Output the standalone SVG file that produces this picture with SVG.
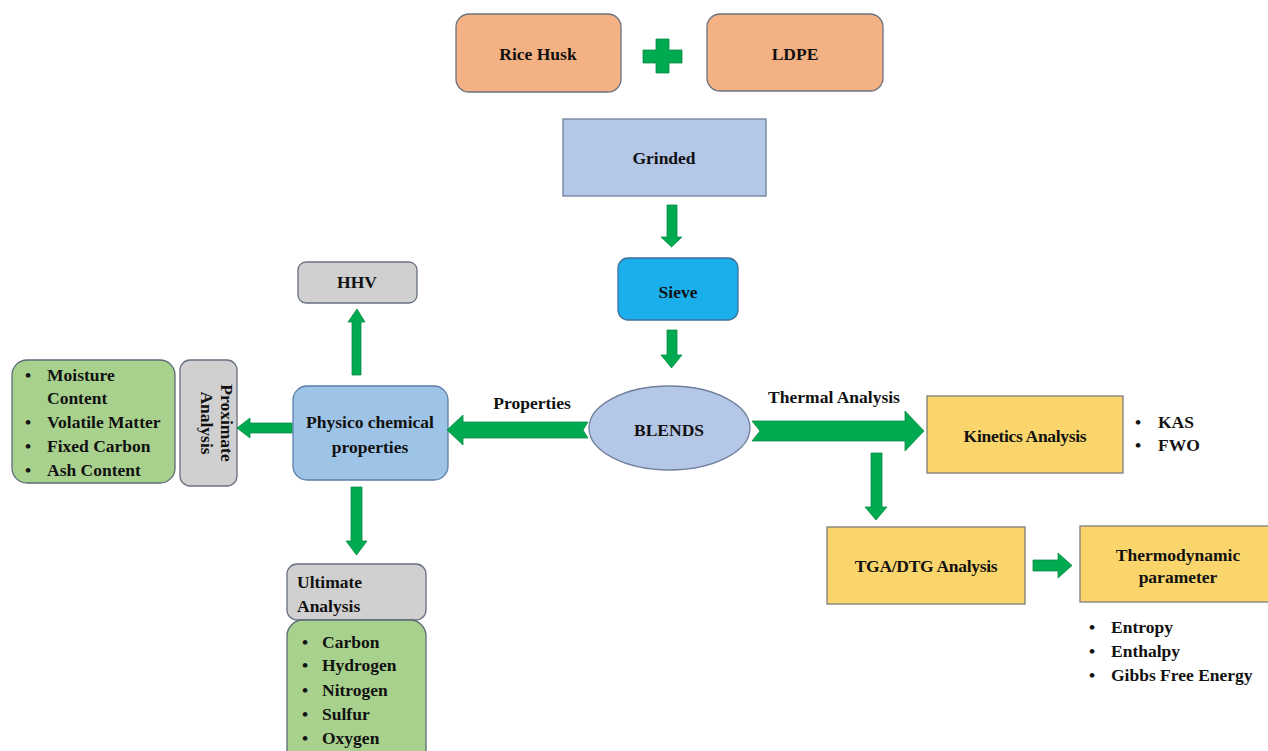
<svg xmlns="http://www.w3.org/2000/svg" width="1268" height="751" viewBox="0 0 1268 751">
<style>
text{font-family:"Liberation Serif","Times New Roman",serif;font-weight:bold;font-size:17.5px;fill:#111}
.c{text-anchor:middle}
.orange{fill:#F4B183;stroke:#6b7280;stroke-width:1.3}
.lblue{fill:#B4C7E7;stroke:#6f7f9c;stroke-width:1.3}
.sieve{fill:#1AAEEB;stroke:#3f6f9a;stroke-width:1.3}
.phys{fill:#9DC3E6;stroke:#5b7fa8;stroke-width:1.3}
.gray{fill:#D0D0D0;stroke:#67707f;stroke-width:1.3}
.green{fill:#A9D18E;stroke:#5d6b78;stroke-width:1.3}
.yellow{fill:#FAD56B;stroke:#7d7d7d;stroke-width:1.3}
.arr{fill:#00AA50;stroke:#0b8a44;stroke-width:0.8}
</style>
<rect width="1268" height="751" fill="#fff"/>
<g id="rice-husk"><rect class="orange" x="456" y="14" width="165" height="78" rx="13"/><text class="c" x="538" y="60">Rice Husk</text></g>
<g id="plus"><path class="arr" d="M656 39h13v11h13v13h-13v10h-13v-10h-13v-13h13z"/></g>
<g id="ldpe"><rect class="orange" x="707" y="14" width="176" height="77" rx="13"/><text class="c" x="795" y="60">LDPE</text></g>
<g id="grinded"><rect class="lblue" x="563" y="119" width="203" height="77"/><text class="c" x="664" y="164">Grinded</text></g>
<g id="sieve"><rect class="sieve" x="618" y="258" width="120" height="62" rx="10"/><text class="c" x="678" y="298">Sieve</text></g>
<g id="blends"><ellipse class="lblue" cx="669.5" cy="428" rx="80.5" ry="42"/><text class="c" x="669" y="436">BLENDS</text></g>
<g id="physico"><rect class="phys" x="293" y="386" width="155" height="94" rx="14"/><text class="c" x="370" y="428">Physico chemical</text><text class="c" x="370" y="453">properties</text></g>
<g id="hhv"><rect class="gray" x="298" y="262" width="119" height="41" rx="8"/><text class="c" x="357" y="288">HHV</text></g>
<g id="proximate-list"><rect class="green" x="12" y="360" width="163" height="123" rx="15"/>
<text x="25" y="381">•</text><text x="47" y="381">Moisture</text>
<text x="47" y="404">Content</text>
<text x="25" y="428">•</text><text x="47" y="428">Volatile Matter</text>
<text x="25" y="452">•</text><text x="47" y="452">Fixed Carbon</text>
<text x="25" y="476">•</text><text x="47" y="476">Ash Content</text></g>
<g id="proximate"><rect class="gray" x="180" y="360" width="57" height="126" rx="10"/>
<g transform="translate(217 423) rotate(90)"><text class="c" x="0" y="-4">Proximate</text><text class="c" x="0" y="16">Analysis</text></g></g>
<g id="ultimate"><rect class="gray" x="287" y="564" width="139" height="56" rx="10"/><text x="297" y="588">Ultimate</text><text x="297" y="612">Analysis</text></g>
<g id="ultimate-list"><rect class="green" x="287" y="620" width="139" height="150" rx="16"/>
<text x="302" y="648">•</text><text x="322" y="648">Carbon</text>
<text x="302" y="671">•</text><text x="322" y="671">Hydrogen</text>
<text x="302" y="696">•</text><text x="322" y="696">Nitrogen</text>
<text x="302" y="720">•</text><text x="322" y="720">Sulfur</text>
<text x="302" y="744">•</text><text x="322" y="744">Oxygen</text></g>
<g id="kinetics"><rect class="yellow" x="927" y="396" width="196" height="77"/><text class="c" x="1025" y="442" letter-spacing="-0.3">Kinetics Analysis</text>
<text x="1135" y="428">•</text><text x="1158" y="428">KAS</text>
<text x="1135" y="451">•</text><text x="1158" y="451">FWO</text></g>
<g id="tga"><rect class="yellow" x="827" y="527" width="198" height="77"/><text class="c" x="926" y="572" letter-spacing="-0.3">TGA/DTG Analysis</text></g>
<g id="thermo"><rect class="yellow" x="1080" y="526" width="192" height="76"/><text class="c" x="1178" y="561">Thermodynamic</text><text class="c" x="1178" y="583">parameter</text>
<text x="1089" y="633">•</text><text x="1111" y="633">Entropy</text>
<text x="1089" y="657">•</text><text x="1111" y="657">Enthalpy</text>
<text x="1089" y="681">•</text><text x="1111" y="681">Gibbs Free Energy</text></g>
<g id="connectors">
<path class="arr" d="M667 205h10v32h5l-10.5 10l-10.5-10h6z"/>
<path class="arr" d="M667 330h10v25h5l-10.5 13l-10.5-13h6z"/>
<path class="arr" d="M447 430l16-15v7h125l-5 8l5 8h-125v7z"/>
<text class="c" x="532" y="409">Properties</text>
<path class="arr" d="M752 421h153v-10l19 20l-19 20v-10h-153l8-10z"/>
<text class="c" x="834" y="403">Thermal Analysis</text>
<path class="arr" d="M357 309l8 13h-4v53h-9v-53h-4z"/>
<path class="arr" d="M237 428l13-10v5h42v10h-42v5z"/>
<path class="arr" d="M351 487h11v54h5l-10.5 14l-10.5-14h5z"/>
<path class="arr" d="M871 453h11v54h5l-11 13l-11-13h6z"/>
<path class="arr" d="M1033 560h25v-7l14 12.5l-14 12.5v-7h-25z"/>
</g>
</svg>
